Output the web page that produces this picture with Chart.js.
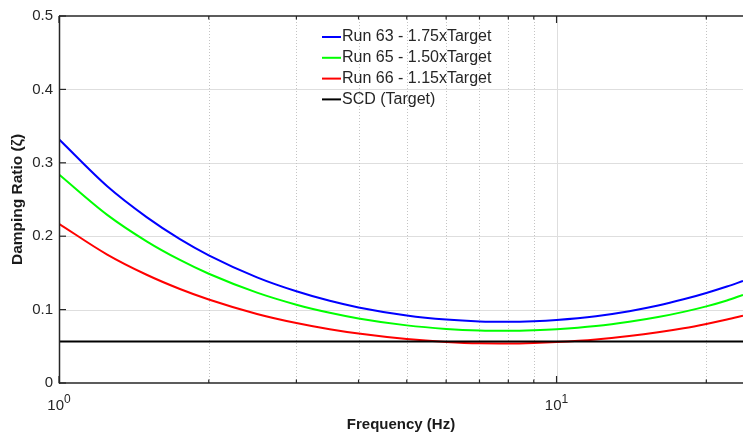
<!DOCTYPE html>
<html>
<head>
<meta charset="utf-8">
<script src="https://cdn.jsdelivr.net/npm/chart.js@4/dist/chart.umd.min.js"></script>
<style>
  html, body { margin: 0; padding: 0; background: #fff; overflow: hidden; }
  #wrap { width: 743px; height: 435px; }
</style>
</head>
<body>
<div id="wrap"><canvas id="chart"></canvas></div>
<script>
// values
const freqHz = [1, 1.25, 1.5, 1.75, 2, 2.5, 3, 3.5, 4, 5, 6, 7, 8, 9, 10, 12, 14, 16, 18, 20, 22, 23.7];
const run63 = [0.332, 0.268, 0.226, 0.196, 0.174, 0.144, 0.125, 0.112, 0.103, 0.092, 0.0864, 0.0839, 0.0834, 0.0842, 0.0859, 0.091, 0.0978, 0.1055, 0.114, 0.1227, 0.1315, 0.139];
const run65 = [0.284, 0.229, 0.193, 0.1676, 0.1488, 0.1231, 0.1067, 0.0957, 0.088, 0.0785, 0.0737, 0.0715, 0.0711, 0.0718, 0.0732, 0.0775, 0.0833, 0.0898, 0.0969, 0.1044, 0.1125, 0.12];
const run66 = [0.217, 0.175, 0.1475, 0.1281, 0.1138, 0.0941, 0.0817, 0.0732, 0.0673, 0.0598, 0.0558, 0.054, 0.0538, 0.0545, 0.0558, 0.0593, 0.0639, 0.069, 0.0745, 0.0804, 0.0864, 0.0916];
const scdFreq = [1, 23.7];
const scdTarget = [0.0567, 0.0567];

const seriesLabels = ['Run 63 - 1.75xTarget', 'Run 65 - 1.50xTarget', 'Run 66 - 1.15xTarget', 'SCD (Target)'];
const seriesColors = ['#0000ff', '#00ff00', '#ff0000', '#000000'];

const yTicks = [0, 0.1, 0.2, 0.3, 0.4, 0.5];
const xMajor = [1, 10];
const xMinor = [2, 3, 4, 5, 6, 7, 8, 9, 20];

const FONT = '"Liberation Sans", Arial, Helvetica, sans-serif';
const AXIS = '#262626';

const pts = (xs, ys) => xs.map((f, i) => ({ x: f, y: ys[i] }));

function seg(ctx, x1, y1, x2, y2) {
    ctx.beginPath();
    ctx.moveTo(x1, y1);
    ctx.lineTo(x2, y2);
    ctx.stroke();
}

const matlabAxes = {
    id: 'matlabAxes',
    beforeDatasetsDraw(chart) {
        const { ctx, chartArea: a, scales: { x, y } } = chart;
        ctx.save();
        ctx.lineWidth = 1;
        ctx.strokeStyle = '#dedede';
        yTicks.forEach(v => {
            if (v <= y.min || v >= y.max) return;
            const py = Math.round(y.getPixelForValue(v)) + 0.5;
            seg(ctx, a.left, py, a.right, py);
        });
        xMajor.forEach(v => {
            if (v <= x.min) return;
            const px = Math.round(x.getPixelForValue(v)) + 0.5;
            seg(ctx, px, a.top, px, a.bottom);
        });
        ctx.strokeStyle = '#c4c4c4';
        ctx.setLineDash([1, 2]);
        xMinor.forEach(v => {
            const px = Math.round(x.getPixelForValue(v)) + 0.5;
            seg(ctx, px, a.top, px, a.bottom);
        });
        ctx.restore();
    },
    afterDatasetsDraw(chart) {
        const { ctx, chartArea: a, scales: { x, y } } = chart;
        ctx.save();

        // axes box (right side falls outside the picture)
        ctx.strokeStyle = AXIS;
        ctx.lineWidth = 1.5;
        seg(ctx, a.left + 0.5, a.top, a.left + 0.5, a.bottom + 0.75);
        seg(ctx, a.left, a.bottom, a.right, a.bottom);
        seg(ctx, a.left, a.top, a.right, a.top);

        // tick marks, pointing inward
        ctx.lineWidth = 1.2;
        yTicks.forEach(v => {
            const py = y.getPixelForValue(v);
            seg(ctx, a.left, py, a.left + 7, py);
        });
        xMajor.forEach(v => {
            const px = x.getPixelForValue(v);
            seg(ctx, px, a.bottom, px, a.bottom - 7);
            seg(ctx, px, a.top, px, a.top + 7);
        });
        xMinor.forEach(v => {
            const px = x.getPixelForValue(v);
            seg(ctx, px, a.bottom, px, a.bottom - 3.5);
            seg(ctx, px, a.top, px, a.top + 3.5);
        });

        // x tick labels as 10^n
        ctx.fillStyle = AXIS;
        ctx.textBaseline = 'alphabetic';
        ctx.textAlign = 'left';
        xMajor.forEach(v => {
            const exp = String(Math.round(Math.log10(v)));
            const px = x.getPixelForValue(v);
            ctx.font = '15px ' + FONT;
            const wb = ctx.measureText('10').width;
            ctx.font = '12px ' + FONT;
            const we = ctx.measureText(exp).width;
            const x0 = px - (wb + we) / 2;
            ctx.font = '15px ' + FONT;
            ctx.fillText('10', x0, 410);
            ctx.font = '12px ' + FONT;
            ctx.fillText(exp, x0 + wb, 403);
        });

        // axis titles
        ctx.fillStyle = '#1a1a1a';
        ctx.font = 'bold 15px ' + FONT;
        ctx.textAlign = 'center';
        ctx.textBaseline = 'middle';
        ctx.fillText('Frequency (Hz)', (a.left + a.right) / 2, 425);
        ctx.save();
        ctx.translate(18, (a.top + a.bottom) / 2);
        ctx.rotate(-Math.PI / 2);
        ctx.font = 'bold 15.5px ' + FONT;
        ctx.fillText('Damping Ratio (\u03B6)', 0, 0);
        ctx.restore();

        // legend
        ctx.font = '16px ' + FONT;
        ctx.textAlign = 'left';
        ctx.textBaseline = 'middle';
        chart.data.datasets.forEach((ds, i) => {
            const ly = 37 + i * 20.8;
            ctx.strokeStyle = ds.borderColor;
            ctx.lineWidth = 2;
            seg(ctx, 322, ly, 341, ly);
            ctx.fillStyle = AXIS;
            ctx.fillText(ds.label, 342, ly);
        });

        ctx.restore();
    }
};

const lineDefaults = { pointRadius: 0, borderWidth: 2, fill: false, cubicInterpolationMode: 'monotone' };

new Chart(document.getElementById('chart'), {
    type: 'line',
    data: {
        datasets: [
            { ...lineDefaults, label: seriesLabels[0], data: pts(freqHz, run63), borderColor: seriesColors[0], order: 4 },
            { ...lineDefaults, label: seriesLabels[1], data: pts(freqHz, run65), borderColor: seriesColors[1], order: 3 },
            { ...lineDefaults, label: seriesLabels[2], data: pts(freqHz, run66), borderColor: seriesColors[2], order: 2 },
            { ...lineDefaults, label: seriesLabels[3], data: pts(scdFreq, scdTarget), borderColor: seriesColors[3], order: 1 }
        ]
    },
    options: {
        responsive: true,
        maintainAspectRatio: false,
        animation: false,
        events: [],
        layout: { padding: { top: 16, left: 0, right: 0, bottom: 0 } },
        plugins: { legend: { display: false }, tooltip: { enabled: false } },
        scales: {
            x: {
                type: 'logarithmic',
                min: 1,
                max: 23.7,
                grid: { display: false },
                border: { display: false },
                ticks: { display: false },
                afterBuildTicks: s => { s.ticks = xMajor.map(v => ({ value: v })); },
                afterFit: s => { s.height = 52; }
            },
            y: {
                min: 0,
                max: 0.5,
                grid: { display: false, drawTicks: false },
                border: { display: false },
                afterBuildTicks: s => { s.ticks = yTicks.map(v => ({ value: v })); },
                ticks: {
                    padding: 6,
                    color: AXIS,
                    font: { size: 15, family: FONT },
                    callback: v => (v === 0 ? '0' : Number(v).toFixed(1))
                },
                afterFit: s => { s.width = 59; }
            }
        }
    },
    plugins: [matlabAxes]
});
</script>
</body>
</html>
